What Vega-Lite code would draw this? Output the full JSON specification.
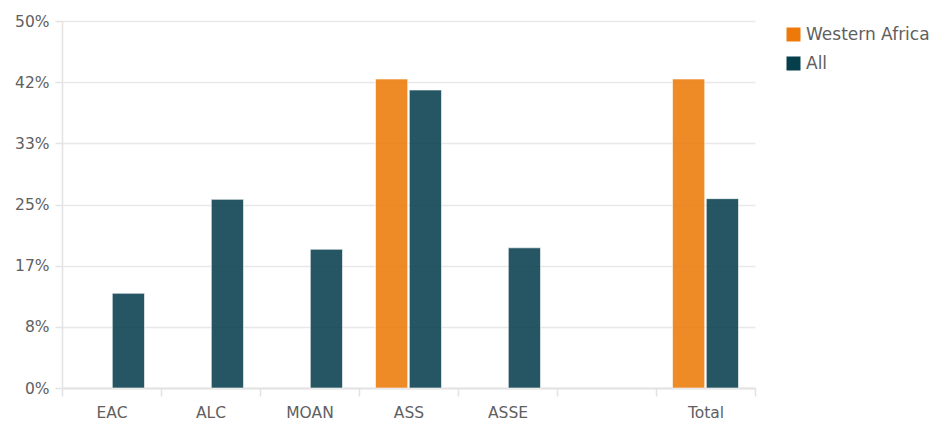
{
  "$schema": "https://vega.github.io/schema/vega-lite/v6.json",
  "width": 693,
  "height": 367,
  "autosize": {"type": "none"},
  "padding": {"left": 62, "top": 21, "right": 181, "bottom": 35},
  "background": "#ffffff",
  "data": {
    "values": [
      {"region": "EAC", "group": "All", "share": 0.129},
      {"region": "ALC", "group": "All", "share": 0.257},
      {"region": "MOAN", "group": "All", "share": 0.189},
      {"region": "ASS", "group": "Western Africa", "share": 0.421},
      {"region": "ASS", "group": "All", "share": 0.406},
      {"region": "ASSE", "group": "All", "share": 0.191},
      {"region": "Total", "group": "Western Africa", "share": 0.421},
      {"region": "Total", "group": "All", "share": 0.258}
    ]
  },
  "mark": {
    "type": "bar",
    "opacity": 0.87,
    "stroke": "#ffffff",
    "strokeOpacity": 0.6,
    "strokeWidth": 1
  },
  "encoding": {
    "x": {
      "field": "region",
      "type": "nominal",
      "sort": null,
      "scale": {
        "domain": ["EAC", "ALC", "MOAN", "ASS", "ASSE", " ", "Total"],
        "paddingInner": 0,
        "paddingOuter": 0
      },
      "axis": {
        "title": null,
        "labelAngle": 0,
        "tickBand": "extent",
        "domainColor": "#e3e3e3",
        "domainWidth": 2,
        "tickColor": "#e3e3e3",
        "tickWidth": 1.5,
        "tickSize": 8,
        "labelPadding": 9,
        "labelFont": "DejaVu Sans",
        "labelFontSize": 15.5,
        "labelColor": "#606060",
        "grid": false
      }
    },
    "xOffset": {
      "field": "group",
      "type": "nominal",
      "scale": {
        "domain": ["Western Africa", "All"],
        "paddingInner": 0.047,
        "paddingOuter": 0.488
      }
    },
    "y": {
      "field": "share",
      "type": "quantitative",
      "scale": {"domain": [0, 0.5], "nice": false},
      "axis": {
        "title": null,
        "values": [0, 0.08333, 0.16667, 0.25, 0.33333, 0.41667, 0.5],
        "format": ".0%",
        "domainColor": "#e3e3e3",
        "domainWidth": 1.5,
        "tickColor": "#e3e3e3",
        "tickWidth": 1.5,
        "tickSize": 7,
        "labelPadding": 6,
        "labelFont": "DejaVu Sans",
        "labelFontSize": 15.5,
        "labelColor": "#606060",
        "gridColor": "#e8e8e8",
        "gridWidth": 1.5
      }
    },
    "color": {
      "field": "group",
      "type": "nominal",
      "scale": {
        "domain": ["Western Africa", "All"],
        "range": ["#ED7A08", "#063E4C"]
      },
      "legend": {
        "title": null,
        "orient": "none",
        "legendX": 723,
        "legendY": 5,
        "padding": 0,
        "symbolType": "square",
        "symbolSize": 196,
        "symbolOpacity": 1,
        "symbolStrokeWidth": 0,
        "labelFont": "DejaVu Sans",
        "labelFontSize": 17,
        "labelColor": "#606060",
        "labelOffset": 4,
        "labelLimit": 200,
        "rowPadding": 11
      }
    }
  },
  "config": {
    "view": {"stroke": null}
  }
}
